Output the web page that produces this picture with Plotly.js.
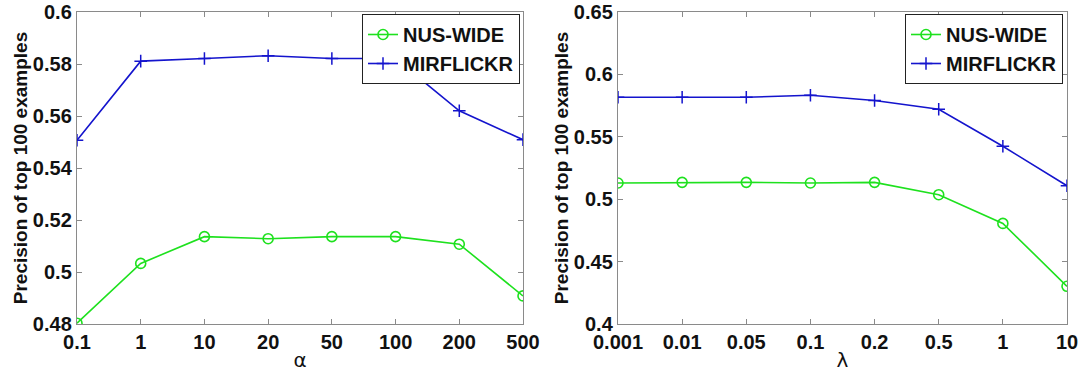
<!DOCTYPE html>
<html>
<head>
<meta charset="utf-8">
<script src="https://cdn.plot.ly/plotly-3.0.1.min.js"></script>
<style>html,body{margin:0;padding:0;background:#fff;}#chart{width:1091px;height:373px;}</style>
</head>
<body>
<div id="chart"></div>
<script>
// Left panel: varying alpha
const alphaLabels = ['0.1', '1', '10', '20', '50', '100', '200', '500'];
const alphaNus = [0.4803, 0.5033, 0.5136, 0.5128, 0.5136, 0.5136, 0.5107, 0.4908];
const alphaMir = [0.5507, 0.5811, 0.5821, 0.5832, 0.5821, 0.5821, 0.5620, 0.5509];

// Right panel: varying lambda
const lambdaLabels = ['0.001', '0.01', '0.05', '0.1', '0.2', '0.5', '1', '10'];
const lambdaNus = [0.5130, 0.5135, 0.5135, 0.5130, 0.5135, 0.5036, 0.4806, 0.4302];
const lambdaMir = [0.5817, 0.5817, 0.5817, 0.5833, 0.5791, 0.5721, 0.5424, 0.5108];

const seriesNames = ['NUS-WIDE', 'MIRFLICKR'];

const GREEN = 'rgb(30,225,30)';
const BLUE = 'rgb(20,20,205)';
const FONT = {family: 'Liberation Sans, Arial, sans-serif', size: 20, color: '#111', weight: 'bold'};
const TITLEFONT = {family: 'Liberation Sans, Arial, sans-serif', size: 19, color: '#111', weight: 'bold'};
const GREEKFONT = {family: 'DejaVu Sans, sans-serif', size: 20, color: '#111', weight: 'normal'};

function nusTrace(x, y, xa, ya, lg) {
  return {x: x, y: y, xaxis: xa, yaxis: ya, legend: lg, name: seriesNames[0], type: 'scatter', mode: 'lines+markers',
    line: {color: GREEN, width: 1.6}, marker: {symbol: 'circle-open', size: 10, color: GREEN, line: {width: 1.6, color: GREEN}}};
}
function mirTrace(x, y, xa, ya, lg) {
  return {x: x, y: y, xaxis: xa, yaxis: ya, legend: lg, name: seriesNames[1], type: 'scatter', mode: 'lines+markers',
    line: {color: BLUE, width: 1.6}, marker: {symbol: 'cross-thin-open', size: 9, color: BLUE, line: {width: 1.5, color: BLUE}}};
}

const data = [
  nusTrace(alphaLabels, alphaNus, 'x', 'y', 'legend'),
  mirTrace(alphaLabels, alphaMir, 'x', 'y', 'legend'),
  nusTrace(lambdaLabels, lambdaNus, 'x2', 'y2', 'legend2'),
  mirTrace(lambdaLabels, lambdaMir, 'x2', 'y2', 'legend2')
];

const W = 1091, H = 373;
function axisBase() {
  return {showline: true, mirror: 'ticks', linecolor: '#8a8a8a', linewidth: 1.2, ticks: 'inside', ticklen: 5,
    tickcolor: '#8a8a8a', showgrid: false, zeroline: false, tickfont: FONT, fixedrange: true};
}

const layout = {
  width: W, height: H,
  margin: {l: 0, r: 0, t: 0, b: 0},
  paper_bgcolor: '#fff', plot_bgcolor: '#fff',
  font: FONT,
  showlegend: true,
  xaxis: Object.assign(axisBase(), {domain: [77 / W, 523 / W], type: 'category', range: [0, 7], anchor: 'y',
    title: {text: 'α', font: GREEKFONT, standoff: 0}}),
  yaxis: Object.assign(axisBase(), {domain: [1 - 324 / H, 1 - 12 / H], range: [0.48, 0.6], dtick: 0.02, anchor: 'x',
    title: {text: 'Precision of top 100 examples', font: TITLEFONT, standoff: 0}}),
  xaxis2: Object.assign(axisBase(), {domain: [618 / W, 1067 / W], type: 'category', range: [0, 7], anchor: 'y2',
    title: {text: 'λ', font: GREEKFONT, standoff: 0}}),
  yaxis2: Object.assign(axisBase(), {domain: [1 - 324 / H, 1 - 12 / H], range: [0.4, 0.65], dtick: 0.05, anchor: 'x2',
    title: {text: 'Precision of top 100 examples', font: TITLEFONT, standoff: 0}}),
  legend: {x: 520 / W, y: 1 - 14 / H, xanchor: 'right', yanchor: 'top', bgcolor: '#fff', bordercolor: '#222', borderwidth: 1,
    font: FONT, tracegroupgap: 0, itemwidth: 30},
  legend2: {x: 1063 / W, y: 1 - 14 / H, xanchor: 'right', yanchor: 'top', bgcolor: '#fff', bordercolor: '#222', borderwidth: 1,
    font: FONT, tracegroupgap: 0, itemwidth: 30}
};

Plotly.newPlot('chart', data, layout, {displayModeBar: false, staticPlot: true});
</script>
</body>
</html>
